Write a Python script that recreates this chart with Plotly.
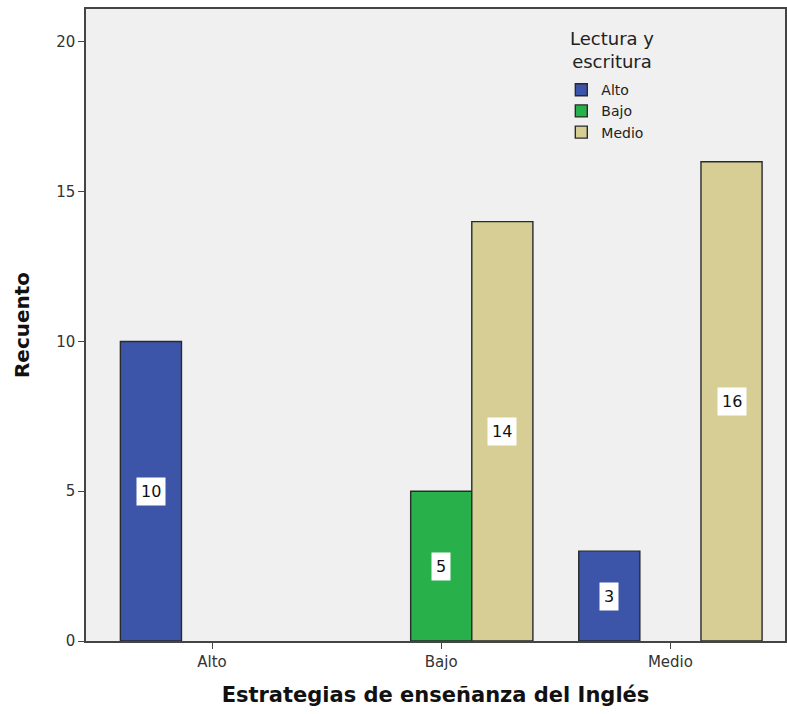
import plotly.graph_objects as go

categories = ["Alto", "Bajo", "Medio"]
series_names = ["Alto", "Bajo", "Medio"]
alto_vals = [10, None, 3]
bajo_vals = [None, 5, None]
medio_vals = [None, 14, 16]
colors = ["#3d55a9", "#28b04b", "#d6ce94"]
y_ticks = [0, 5, 10, 15, 20]
legend_title = "Lectura y<br>escritura"

series_vals = [alto_vals, bajo_vals, medio_vals]
FONT = "DejaVu Sans"

fig = go.Figure()
for name, vals, col in zip(series_names, series_vals, colors):
    fig.add_trace(go.Bar(
        x=categories, y=vals, name=name,
        marker=dict(color=col, line=dict(color="#2a2a2a", width=1.4)),
    ))

bargap = 0.2
bw = (1 - bargap) / 3
offsets = [-bw, 0, bw]
for i, vals in enumerate(series_vals):
    for j, v in enumerate(vals):
        if v is None:
            continue
        fig.add_annotation(
            x=j + offsets[i], y=v / 2, xref="x", yref="y",
            text=str(v), showarrow=False,
            font=dict(family=FONT, size=16, color="#111"),
            bgcolor="white", borderpad=4,
        )

# legend title
fig.add_annotation(
    x=0.752, y=0.935, xref="paper", yref="paper",
    xanchor="center", yanchor="middle",
    text=legend_title, showarrow=False, align="center",
    font=dict(family=FONT, size=18, color="#222"),
)

fig.update_layout(
    width=787, height=714,
    margin=dict(l=86, r=2, t=9, b=73),
    paper_bgcolor="white", plot_bgcolor="#f0f0f0",
    barmode="group", bargap=bargap, bargroupgap=0,
    font=dict(family=FONT, color="#222"),
    legend=dict(
        x=0.68, y=0.897, xanchor="left", yanchor="top",
        bgcolor="rgba(0,0,0,0)",
        font=dict(family=FONT, size=14, color="#222"),
        tracegroupgap=0,
    ),
    xaxis=dict(
        type="category", range=[-0.55, 2.5],
        showline=True, linecolor="#444", linewidth=1.5, mirror=True,
        ticks="outside", ticklen=6, tickcolor="#444",
        tickfont=dict(family=FONT, size=15, color="#333"),
        showgrid=False,
        title=dict(text="Estrategias de enseñanza del Inglés",
                   font=dict(family=FONT, size=21, color="#111", weight="bold"),
                   standoff=18),
        automargin=False,
    ),
    yaxis=dict(
        range=[0, 21.1], tickvals=y_ticks,
        showline=True, linecolor="#444", linewidth=1.5, mirror=True,
        ticks="outside", ticklen=6, tickcolor="#444",
        tickfont=dict(family=FONT, size=15, color="#333"),
        showgrid=False, zeroline=False,
        title=dict(text="Recuento",
                   font=dict(family=FONT, size=20, color="#111", weight="bold"),
                   standoff=21),
        automargin=False,
    ),
)

fig.write_html("out.html", config={"displayModeBar": False},
               post_script="document.body.style.margin='0px';")
